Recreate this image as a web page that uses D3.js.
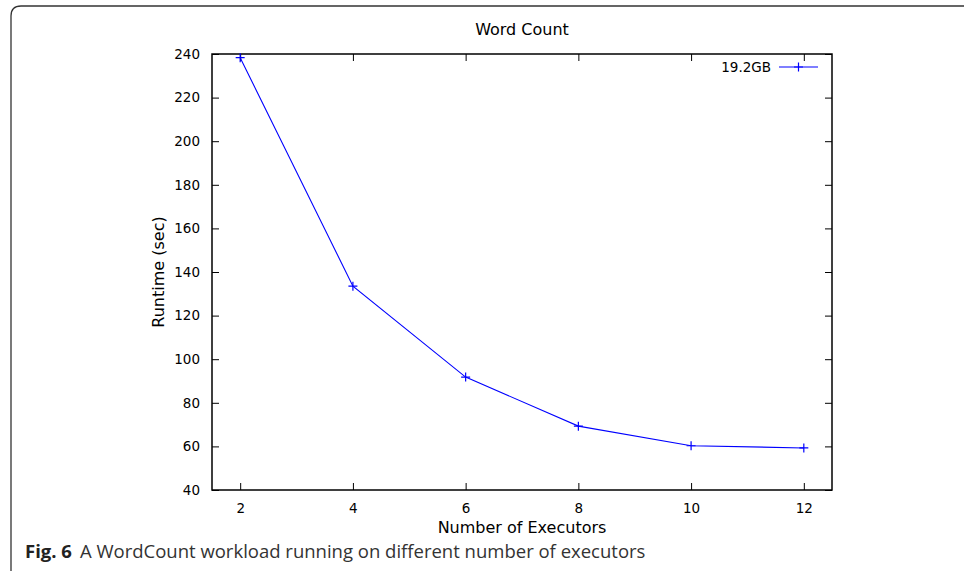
<!DOCTYPE html>
<html>
<head>
<meta charset="utf-8">
<script src="https://cdn.jsdelivr.net/npm/d3@7"></script>
<style>
  html, body { margin: 0; padding: 0; background: #fff; }
  svg { display: block; }
</style>
</head>
<body>
<svg id="chart" width="964" height="571"></svg>
<script>
// Runtime of the WordCount job against the number of executors
const executors = [2, 4, 6, 8, 10, 12];
const runtime = [238.3, 133.5, 91.8, 69.3, 60.3, 59.3];
const seriesName = "19.2GB";
const xTicks = [2, 4, 6, 8, 10, 12];
const yTicks = [40, 60, 80, 100, 120, 140, 160, 180, 200, 220, 240];

const svg = d3.select("#chart");
const W = 964, H = 571;
const plot = { left: 212, right: 832, top: 54, bottom: 490 };
const axisFont = "'DejaVu Sans', sans-serif";

// figure frame with rounded top-left corner
svg.append("path")
  .attr("d", `M11,${H + 2} L11,16 Q11,6 21,6 L${W + 2},6`)
  .attr("fill", "none")
  .attr("stroke", "#333")
  .attr("stroke-width", 1.3);

const x = d3.scaleLinear().domain([1.5, 12.5]).range([plot.left, plot.right]);
const y = d3.scaleLinear().domain([40, 240]).range([plot.bottom, plot.top]);

const tickLen = 7;

// bottom axis with inward ticks, mirrored on top
const xAxis = svg.append("g").attr("transform", `translate(0,${plot.bottom})`)
  .call(d3.axisBottom(x).tickValues(xTicks).tickSize(-tickLen).tickPadding(13).tickFormat(d3.format("d")));
const xAxisTop = svg.append("g").attr("transform", `translate(0,${plot.top})`)
  .call(d3.axisTop(x).tickValues(xTicks).tickSize(-tickLen).tickFormat(""));

const yAxis = svg.append("g").attr("transform", `translate(${plot.left},0)`)
  .call(d3.axisLeft(y).tickValues(yTicks).tickSize(-tickLen).tickPadding(12).tickFormat(d3.format("d")));
const yAxisRight = svg.append("g").attr("transform", `translate(${plot.right},0)`)
  .call(d3.axisRight(y).tickValues(yTicks).tickSize(-tickLen).tickFormat(""));

[xAxis, xAxisTop, yAxis, yAxisRight].forEach(g => {
  g.attr("font-family", null).attr("font-size", null);
  g.select(".domain").remove();
  g.selectAll(".tick line").attr("stroke", "#000").attr("stroke-width", 1);
  g.selectAll(".tick text").attr("fill", "#000")
    .attr("font-family", axisFont).attr("font-size", 13.5);
});

// plot border
svg.append("rect")
  .attr("x", plot.left).attr("y", plot.top)
  .attr("width", plot.right - plot.left).attr("height", plot.bottom - plot.top)
  .attr("fill", "none").attr("stroke", "#000").attr("stroke-width", 1.5);

const points = executors.map((e, i) => ({ x: e, y: runtime[i] }));
const blue = "#0000ff";

svg.append("path")
  .datum(points)
  .attr("fill", "none")
  .attr("stroke", blue)
  .attr("stroke-width", 1.1)
  .attr("d", d3.line().x(d => x(d.x)).y(d => y(d.y)));

const plus = (g, cx, cy, r) => {
  g.append("path")
    .attr("d", `M${cx - r},${cy} H${cx + r} M${cx},${cy - r} V${cy + r}`)
    .attr("stroke", blue).attr("stroke-width", 1.2).attr("fill", "none");
};
const markers = svg.append("g");
points.forEach(p => plus(markers, x(p.x), y(p.y), 4.5));

// legend
const legY = 67;
svg.append("text")
  .attr("x", 771).attr("y", legY + 4.5)
  .attr("text-anchor", "end")
  .attr("font-family", axisFont).attr("font-size", 13.5)
  .text(seriesName);
svg.append("line")
  .attr("x1", 779).attr("x2", 818).attr("y1", legY).attr("y2", legY)
  .attr("stroke", blue).attr("stroke-width", 1.1);
plus(svg, 798.5, legY, 4.5);

// titles
svg.append("text")
  .attr("x", (plot.left + plot.right) / 2).attr("y", 35)
  .attr("text-anchor", "middle")
  .attr("font-family", axisFont).attr("font-size", 16)
  .text("Word Count");

svg.append("text")
  .attr("x", (plot.left + plot.right) / 2).attr("y", 533)
  .attr("text-anchor", "middle")
  .attr("font-family", axisFont).attr("font-size", 16)
  .text("Number of Executors");

svg.append("text")
  .attr("transform", `translate(164,${(plot.top + plot.bottom) / 2}) rotate(-90)`)
  .attr("text-anchor", "middle")
  .attr("font-family", axisFont).attr("font-size", 16)
  .text("Runtime (sec)");

// caption
const cap = svg.append("text")
  .attr("x", 25).attr("y", 558)
  .attr("font-family", "'Open Sans', 'Noto Sans', sans-serif").attr("font-size", 18.5)
  .attr("fill", "#333");
cap.append("tspan").attr("font-weight", "bold").attr("fill", "#222").text("Fig. 6");
cap.append("tspan").attr("dx", 8).text("A WordCount workload running on different number of executors");
</script>
</body>
</html>
